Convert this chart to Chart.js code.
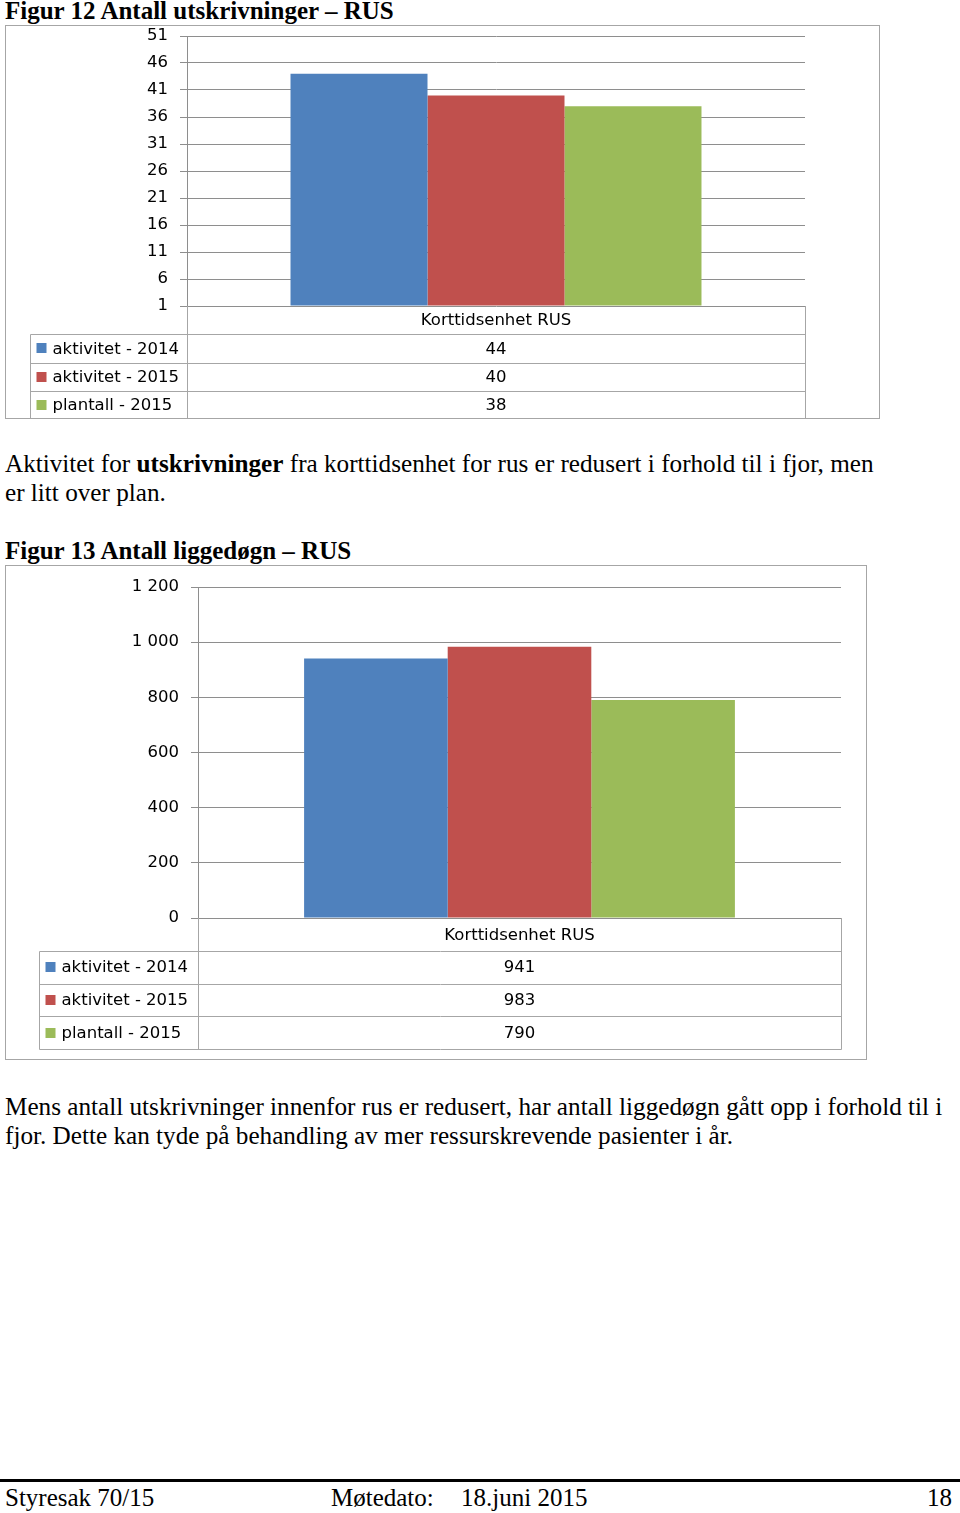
<!DOCTYPE html>
<html lang="no">

<head>
    <meta charset="UTF-8" />
    <title>Figur 12 og 13 - RUS</title>
    <script src="https://cdn.jsdelivr.net/npm/chart.js"></script>
    <style>
        body {
            margin: 0;
            width: 960px;
            height: 1513px;
            position: relative;
            background: #fff;
            font-family: "Liberation Serif", "Times New Roman", serif;
            color: #000;
        }

        .fig-title {
            position: absolute;
            left: 5px;
            font-size: 25px;
            font-weight: bold;
            white-space: nowrap;
            line-height: 24px;
        }

        .text {
            position: absolute;
            left: 5px;
            font-size: 25.2px;
            line-height: 29px;
            white-space: nowrap;
        }

        .frame {
            position: absolute;
            left: 5px;
            border: 1px solid #a6a6a6;
        }

        .frame canvas {
            display: block;
        }

        .footer-line {
            position: absolute;
            left: 0;
            top: 1479px;
            width: 960px;
            height: 3px;
            background: #000;
        }

        .footer {
            position: absolute;
            top: 1485px;
            font-size: 25px;
            line-height: 26px;
            white-space: nowrap;
        }
    </style>
</head>

<body>
    <div class="fig-title" style="top:-1px">Figur 12 Antall utskrivninger – RUS</div>
    <div class="frame" style="top:25px; width:873px; height:392px">
        <canvas id="utskrivChart" width="873" height="392"></canvas>
    </div>

    <div class="text" style="top:449px">Aktivitet for <b>utskrivninger</b> fra korttidsenhet for rus er redusert i forhold til i fjor, men<br>er litt over plan.</div>

    <div class="fig-title" style="top:539px">Figur 13 Antall liggedøgn – RUS</div>
    <div class="frame" style="top:565px; width:860px; height:493px">
        <canvas id="liggedognChart" width="860" height="493"></canvas>
    </div>

    <div class="text" style="top:1092px">Mens antall utskrivninger innenfor rus er redusert, har antall liggedøgn gått opp i forhold til i<br>fjor. Dette kan tyde på behandling av mer ressurskrevende pasienter i år.</div>

    <div class="footer-line"></div>
    <div class="footer" style="left:5px">Styresak 70/15</div>
    <div class="footer" style="left:331px">Møtedato:</div>
    <div class="footer" style="left:461px">18.juni 2015</div>
    <div class="footer" style="right:8px">18</div>
</body>

</html>

<script>
    // data
    const categories = ['Korttidsenhet RUS'];
    const seriesNames = ['aktivitet - 2014', 'aktivitet - 2015', 'plantall - 2015'];
    const utskrivninger = [44, 40, 38];
    const liggedogn = [941, 983, 790];
    const ticksFig12 = [1, 6, 11, 16, 21, 26, 31, 36, 41, 46, 51];
    const ticksFig13 = [0, 200, 400, 600, 800, 1000, 1200];
    const seriesColors = ['#4F81BD', '#C0504D', '#9BBB59'];

    Chart.defaults.font.family = '"DejaVu Sans", sans-serif';
    Chart.defaults.font.size = 16.5;
    Chart.defaults.color = '#000';
    Chart.defaults.animation = false;

    // draws the Excel style data table under the plot
    const dataTable = {
        id: 'dataTable',
        afterDraw(chart, args, opts) {
            const { ctx, chartArea } = chart;
            const xs = chart.scales.x;
            const top = chartArea.bottom;
            const rh = opts.rowHeight;
            const left = Math.round(opts.left) + 0.5;
            const axisX = Math.round(chartArea.left) + 0.5;
            const right = Math.round(chartArea.right) + 0.5;
            const bottom = Math.round(top + 4 * rh) + 0.5;

            ctx.save();
            ctx.strokeStyle = opts.lineColor;
            ctx.lineWidth = 1;
            ctx.beginPath();
            for (let r = 1; r <= 4; r++) {
                const y = Math.round(top + r * rh) + 0.5;
                ctx.moveTo(left, y);
                ctx.lineTo(right, y);
            }
            ctx.moveTo(left, Math.round(top + rh) + 0.5);
            ctx.lineTo(left, bottom);
            ctx.moveTo(axisX, top);
            ctx.lineTo(axisX, bottom);
            ctx.moveTo(right, top);
            ctx.lineTo(right, bottom);
            ctx.stroke();

            ctx.font = '16.5px "DejaVu Sans", sans-serif';
            ctx.textBaseline = 'middle';
            ctx.textAlign = 'center';
            ctx.fillStyle = '#000';
            categories.forEach((c, i) => ctx.fillText(c, xs.getPixelForValue(i), top + rh / 2 + 1));

            chart.data.datasets.forEach((ds, k) => {
                const yMid = top + (k + 1.5) * rh + 1;
                ctx.fillStyle = ds.backgroundColor;
                ctx.fillRect(left + 6, Math.round(yMid - 6), 10, 10);
                ctx.fillStyle = '#000';
                ctx.textAlign = 'left';
                ctx.fillText(ds.label, left + 22, yMid);
                ctx.textAlign = 'center';
                ds.data.forEach((v, i) => ctx.fillText(v, xs.getPixelForValue(i), yMid));
            });
            ctx.restore();
        }
    };

    function spaced(v) {
        return String(v).replace(/\B(?=(\d{3})+(?!\d))/g, ' ');
    }

    function makeChart(id, values, yTicks, axisWidth, pad, table) {
        const yMin = yTicks[0];
        const yMax = yTicks[yTicks.length - 1];
        return new Chart(document.getElementById(id), {
            type: 'bar',
            data: {
                labels: categories,
                datasets: seriesNames.map((name, i) => ({
                    label: name,
                    data: [values[i]],
                    backgroundColor: seriesColors[i],
                    base: yMin,
                    categoryPercentage: table.catPct,
                    barPercentage: 1.0
                }))
            },
            options: {
                responsive: false,
                layout: { padding: pad },
                plugins: {
                    legend: { display: false },
                    tooltip: { enabled: false },
                    dataTable: table
                },
                scales: {
                    x: { display: false },
                    y: {
                        min: yMin,
                        max: yMax,
                        afterBuildTicks: (scale) => {
                            scale.ticks = yTicks.map(v => ({ value: v }));
                        },
                        afterFit: (scale) => {
                            scale.width = axisWidth;
                            scale.paddingTop = 0;
                            scale.paddingBottom = 0;
                        },
                        ticks: {
                            padding: 12,
                            callback: (v) => spaced(v)
                        },
                        grid: {
                            color: '#8e8e8e',
                            tickLength: 7,
                            tickColor: '#8e8e8e'
                        },
                        border: { color: '#8e8e8e' }
                    }
                }
            },
            plugins: [dataTable]
        });
    }

    makeChart('utskrivChart', utskrivninger, ticksFig12, 181,
        { top: 10, right: 74, bottom: 112, left: 0 },
        { rowHeight: 28.25, left: 24, lineColor: '#a6a6a6', catPct: 0.665 });

    makeChart('liggedognChart', liggedogn, ticksFig13, 192,
        { top: 21, right: 25, bottom: 141, left: 0 },
        { rowHeight: 32.75, left: 33, lineColor: '#a6a6a6', catPct: 0.67 });
</script>
